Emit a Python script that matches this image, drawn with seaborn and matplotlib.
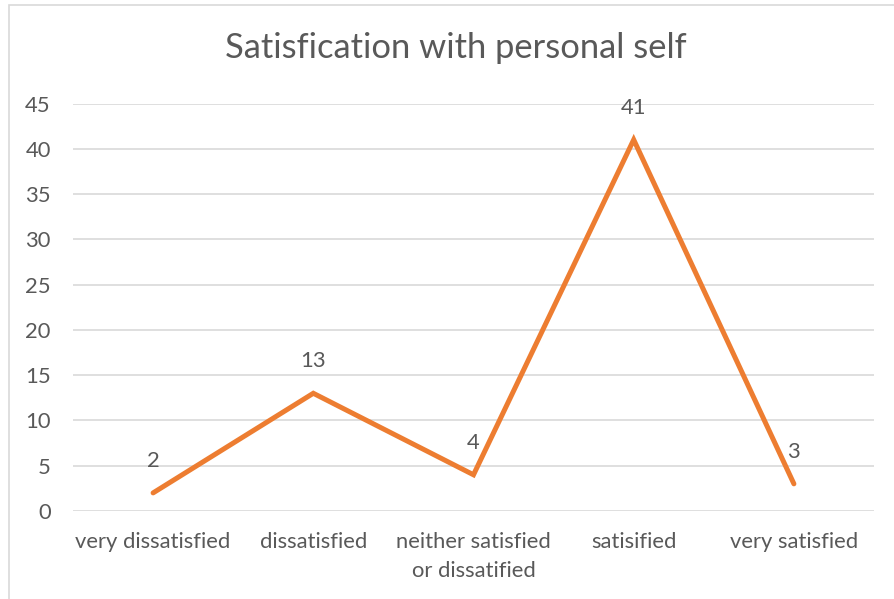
import matplotlib
matplotlib.use("Agg")
import matplotlib.pyplot as plt
import seaborn as sns
import pandas as pd
from matplotlib.patches import Rectangle

categories = ["very dissatisfied", "dissatisfied", "neither satisfied\nor dissatified",
              "satisified", "very satisfied"]
counts = [2, 13, 4, 41, 3]
y_ticks = [0, 5, 10, 15, 20, 25, 30, 35, 40, 45]
title = "Satisfication with personal self"

sns.set_theme(style="white")
plt.rcParams["font.family"] = ["Lato", "DejaVu Sans"]

text_color = "#595959"
grid_color = "#D9D9D9"
line_color = "#ED7D31"

df = pd.DataFrame({"category": categories, "count": counts})

fig = plt.figure(figsize=(8.95, 5.99), dpi=100)
ax = fig.add_axes([73 / 895, 88 / 599, (874 - 73) / 895, (511 - 103.5) / 599])

sns.lineplot(data=df, x="category", y="count", sort=False, ax=ax,
             color=line_color, linewidth=3.6, solid_capstyle="round",
             solid_joinstyle="miter", zorder=3)

ax.set_xlim(-0.5, len(categories) - 0.5)
ax.set_ylim(0, 45)
ax.set_yticks(y_ticks)
ax.set_yticklabels([str(t) for t in y_ticks])
ax.yaxis.grid(True, color=grid_color, linewidth=1.2)
ax.set_axisbelow(True)
for s in ax.spines.values():
    s.set_visible(False)
ax.tick_params(axis="both", length=0, colors=text_color, labelsize=15.8)
ax.tick_params(axis="y", pad=16)
ax.tick_params(axis="x", pad=15)
ax.set_xlabel("")
ax.set_ylabel("")
for lbl in ax.get_xticklabels():
    lbl.set_linespacing(1.55)

# value labels above each point
for i, v in enumerate(counts):
    ax.annotate(str(v), (i, v), xytext=(0, 23), textcoords="offset points",
                ha="center", va="center", fontsize=15.8, color=text_color)

fig.text(456 / 895, 1 - 48 / 599, title, ha="center", va="center",
         fontsize=24.8, color=text_color)

# chart frame
fig.patches.append(Rectangle((9 / 895, -0.05), 1.1, 1 - 5 / 599 + 0.05,
                             transform=fig.transFigure, fill=False,
                             edgecolor="#D9D9D9", linewidth=1.2))

fig.savefig("out.png", dpi=100)
